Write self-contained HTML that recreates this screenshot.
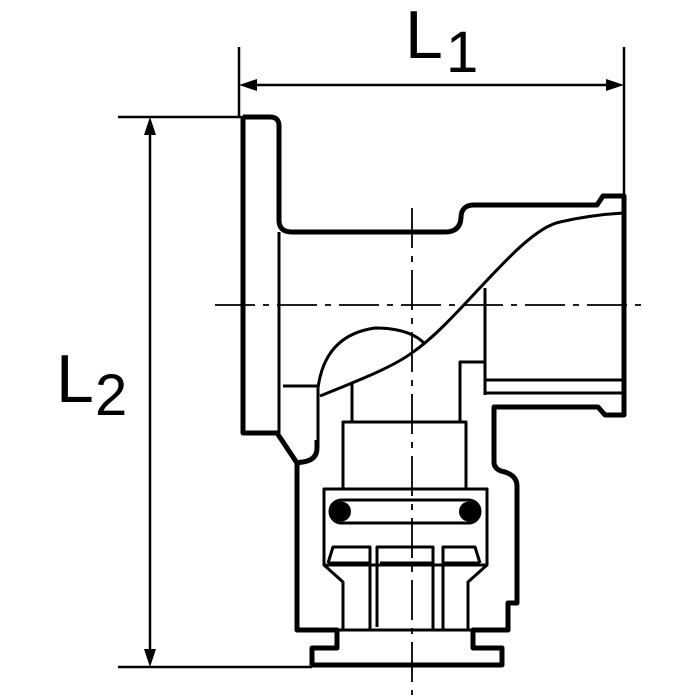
<!DOCTYPE html>
<html><head><meta charset="utf-8"><style>html,body{margin:0;padding:0;background:#fff}svg{display:block}</style></head>
<body>
<svg width="700" height="700" viewBox="0 0 700 700" xmlns="http://www.w3.org/2000/svg">
<g fill="none" stroke="#000" stroke-linejoin="round">
<g stroke-width="2.5">
<line x1="239" y1="47" x2="239" y2="118"/>
<line x1="624" y1="47" x2="624" y2="196"/>
<line x1="245" y1="85" x2="618" y2="85"/>
<line x1="118" y1="117" x2="243" y2="117"/>
<line x1="118" y1="667" x2="312" y2="667"/>
<line x1="150" y1="123" x2="150" y2="661"/>
</g>
<g stroke-width="1.8">
<line x1="215" y1="305" x2="645" y2="305" stroke-dasharray="40,8,6,8"/>
<line x1="412" y1="208" x2="412" y2="695" stroke-dasharray="40,8,6,8"/>
</g>
<path stroke-width="5" d="M243,117 H270 Q279,117 279,126 V220 Q279,232 292,232 H445 Q460,232 461,218 Q461,205 474,205 H597 L603,196 H624 V415 H605 L598,407 H494 V462 Q494,470 505,472 Q517,476 517,486 V603 H508 V630 H473 V648 H502 V665 H312 V648 H337 V630 H297 V466 Q297,462 303,462 Q317,460 317,448 V440"/>
<path stroke-width="5" d="M243,117 V433 H277 L297,463"/>
<path stroke-width="3" d="M279,232 V433"/>
<g stroke-width="3">
<path d="M318,388 V448"/>
<line x1="283" y1="386" x2="318" y2="386"/>
<path d="M318,388 Q325,335 375,328 Q410,328 425,344"/>
<path d="M320,396 C360,380 395,366 413,352 C460,320 520,230 560,222 Q590,215 623,213"/>
<line x1="485" y1="288" x2="485" y2="395"/>
<line x1="485" y1="380" x2="623" y2="380"/>
<line x1="485" y1="393" x2="623" y2="393"/>
<path d="M485,362 H460 V422"/>
<line x1="352" y1="383" x2="352" y2="422"/>
<rect x="343" y="422" width="123" height="67"/>
<rect x="324" y="489" width="163" height="76"/>
<rect x="330" y="500" width="150" height="23" rx="11.5"/>
<path d="M324,565 L343,582 V630 M487,565 L468,582 V630"/>
<line x1="297" y1="630" x2="473" y2="630"/>
<path d="M328,563 L333,547 H370 V630 M328,563 H370"/>
<path d="M377,627 V547 H433 V630 M380,563 H433"/>
<path d="M480,563 L475,547 H443 V630 M443,563 H480"/>
</g>
<circle cx="341" cy="511.5" r="10" fill="#000" stroke="none"/>
<circle cx="469" cy="511.5" r="10" fill="#000" stroke="none"/>
</g>
<g fill="#000">
<polygon points="239,85 257,79 257,91"/>
<polygon points="624,85 606,79 606,91"/>
<polygon points="150,117 144,135 156,135"/>
<polygon points="150,667 144,649 156,649"/>
</g>
<g font-family="Liberation Sans, sans-serif" fill="#000">
<text x="405" y="58" font-size="68">L</text>
<text x="446" y="72" font-size="58">1</text>
<text x="56" y="402" font-size="68">L</text>
<text x="95" y="415" font-size="58">2</text>
</g>
</svg>
</body></html>
